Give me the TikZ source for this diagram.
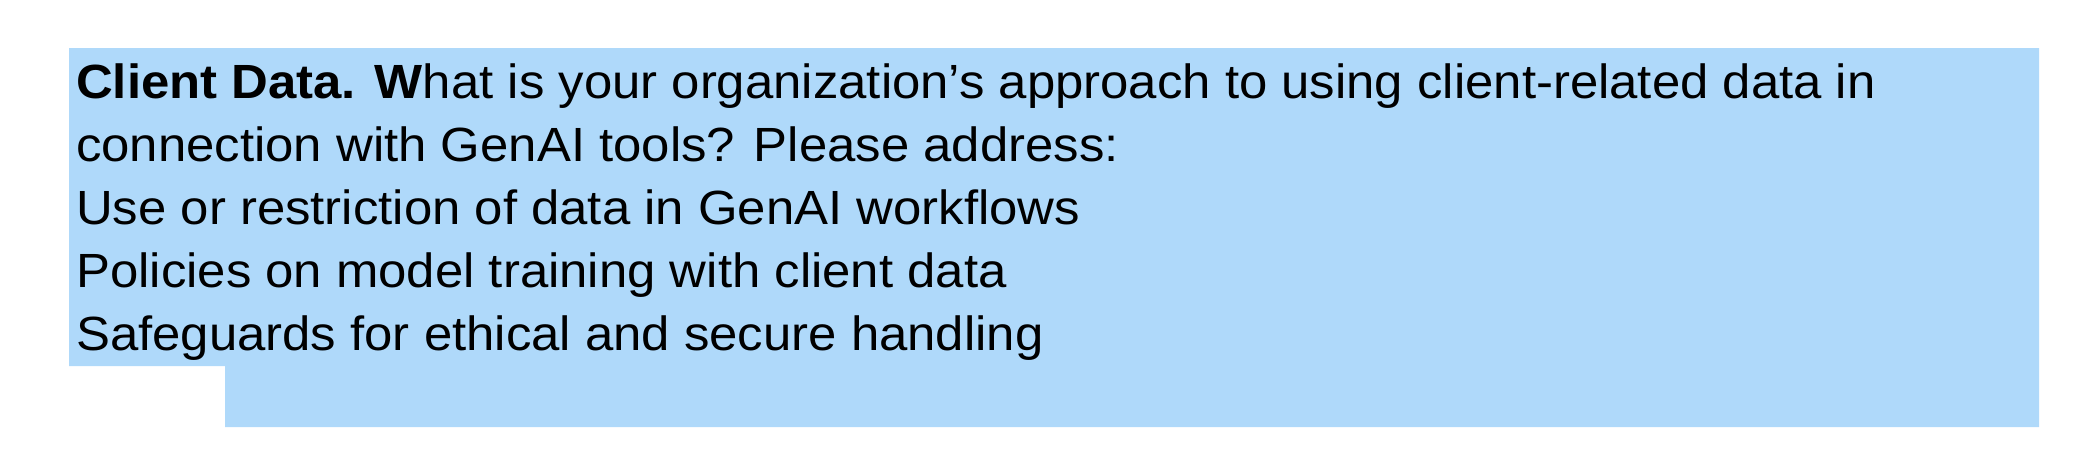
\documentclass[tikz,border=0pt]{standalone}
\usepackage{fontspec}
\setmainfont[FakeStretch=1.06]{Liberation Sans}
\definecolor{hlblue}{RGB}{175,217,250}
\begin{document}
\begin{tikzpicture}[x=1pt,y=-1pt,
  txt/.style={anchor=base west,inner sep=0pt,font=\fontsize{48}{63}\selectfont}]
\useasboundingbox (0,0) rectangle (2098,472);
\fill[hlblue] (69,48) -- (2039,48) -- (2039,427) -- (225,427) -- (225,366) -- (69,366) -- cycle;
\node[txt] (l1) at (76,98) {\textbf{Client Data. W}hat is your organization’s approach to using client-related data in};
\node[txt] (l2) at (76,161) {connection with GenAI tools? Please address:};
\node[txt] (l3) at (76,224) {Use or restriction of data in GenAI workflows};
\node[txt] (l4) at (76,287) {Policies on model training with client data};
\node[txt] (l5) at (76,350) {Safeguards for ethical and secure handling};
\end{tikzpicture}
\end{document}
